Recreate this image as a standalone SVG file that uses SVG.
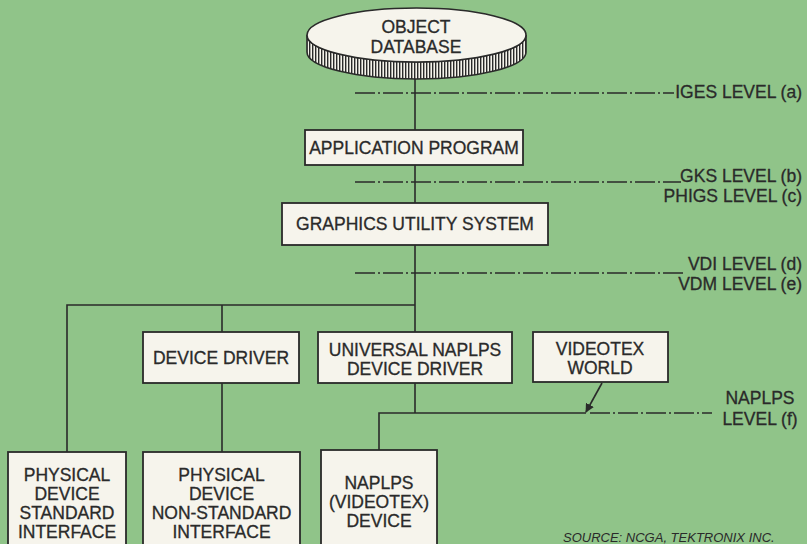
<svg xmlns="http://www.w3.org/2000/svg" width="807" height="544" viewBox="0 0 807 544">
<style>
.bg{fill:#90c489}
.box{fill:#f6f4ec;stroke:#2a2a2a;stroke-width:1.8}
.t{font-family:"Liberation Sans",Arial,sans-serif;font-size:17.5px;fill:#2a2a2a;stroke:#2a2a2a;stroke-width:0.3;text-anchor:middle}
.lbl{font-family:"Liberation Sans",Arial,sans-serif;font-size:17.5px;fill:#2a2a2a;stroke:#2a2a2a;stroke-width:0.3;text-anchor:end}
.c{fill:none;stroke:#2a2a2a;stroke-width:1.6}
.dd{fill:none;stroke:#2a2a2a;stroke-width:1.5;stroke-dasharray:20 3 2 3}
.src{font-family:"Liberation Sans",Arial,sans-serif;font-size:13px;font-style:italic;fill:#2a2a2a}
</style>
<defs>
<pattern id="ribs" patternUnits="userSpaceOnUse" width="3" height="40">
<rect width="3" height="40" fill="#f6f4ec"/>
<rect x="0" width="1.4" height="40" fill="#2a2a2a"/>
</pattern>
<marker id="arr" viewBox="0 0 10 10" refX="9" refY="5" markerWidth="9" markerHeight="9" markerUnits="userSpaceOnUse" orient="auto">
<path d="M0,0 L10,5 L0,10 Z" fill="#2a2a2a"/>
</marker>
</defs>
<rect class="bg" width="807" height="544"/>

<g id="connectors">
<line class="c" x1="415" y1="79" x2="415" y2="130"/>
<line class="c" x1="415" y1="165" x2="415" y2="203"/>
<line class="c" x1="415" y1="245" x2="415" y2="332"/>
<polyline class="c" points="67,452 67,305 415,305"/>
<line class="c" x1="222" y1="305" x2="222" y2="332"/>
<line class="c" x1="222" y1="383" x2="222" y2="452"/>
<polyline class="c" points="415,383 415,413"/>
<polyline class="c" points="379,450 379,413 586,413"/>
<line class="c" x1="602" y1="383" x2="586" y2="412" marker-end="url(#arr)"/>
<line class="dd" x1="355" y1="93" x2="674" y2="93"/>
<line class="dd" x1="355" y1="182" x2="681" y2="182"/>
<line class="dd" x1="355" y1="273" x2="684" y2="273"/>
<line class="dd" x1="590" y1="413" x2="712" y2="413"/>
</g>

<g id="object-database">
<path d="M307,35 A109.5,27 0 0 0 526,35 L526,52 A109.5,27 0 0 1 307,52 Z" fill="url(#ribs)" stroke="#2a2a2a" stroke-width="1.6"/>
<ellipse cx="416.5" cy="35" rx="109.5" ry="27" fill="#f6f4ec" stroke="#2a2a2a" stroke-width="1.6"/>
<text class="t" x="416" y="33">OBJECT</text>
<text class="t" x="416" y="53">DATABASE</text>
</g>

<g id="application-program">
<rect class="box" x="305" y="130" width="218" height="35"/>
<text class="t" x="414" y="154">APPLICATION PROGRAM</text>
</g>

<g id="graphics-utility-system">
<rect class="box" x="282" y="203" width="266" height="42"/>
<text class="t" x="415" y="230">GRAPHICS UTILITY SYSTEM</text>
</g>

<g id="device-driver">
<rect class="box" x="143" y="332" width="156" height="51"/>
<text class="t" x="221" y="364">DEVICE DRIVER</text>
</g>

<g id="universal-naplps">
<rect class="box" x="318" y="332" width="194" height="51"/>
<text class="t" x="415" y="356">UNIVERSAL NAPLPS</text>
<text class="t" x="415" y="375">DEVICE DRIVER</text>
</g>

<g id="videotex-world">
<rect class="box" x="533" y="332" width="135" height="50"/>
<text class="t" x="600" y="355">VIDEOTEX</text>
<text class="t" x="600" y="374">WORLD</text>
</g>

<g id="physical-standard">
<rect class="box" x="8" y="452" width="118" height="100"/>
<text class="t" x="67" y="481">PHYSICAL</text>
<text class="t" x="67" y="500">DEVICE</text>
<text class="t" x="67" y="519">STANDARD</text>
<text class="t" x="67" y="538">INTERFACE</text>
</g>

<g id="physical-nonstandard">
<rect class="box" x="143" y="452" width="157" height="100"/>
<text class="t" x="221.5" y="481">PHYSICAL</text>
<text class="t" x="221.5" y="500">DEVICE</text>
<text class="t" x="221.5" y="519">NON-STANDARD</text>
<text class="t" x="221.5" y="538">INTERFACE</text>
</g>

<g id="naplps-device">
<rect class="box" x="321" y="450" width="116" height="100"/>
<text class="t" x="379" y="489">NAPLPS</text>
<text class="t" x="379" y="508">(VIDEOTEX)</text>
<text class="t" x="379" y="527">DEVICE</text>
</g>

<g id="levels">
<text class="lbl" x="802" y="98">IGES LEVEL (a)</text>
<text class="lbl" x="802" y="182">GKS LEVEL (b)</text>
<text class="lbl" x="802" y="202">PHIGS LEVEL (c)</text>
<text class="lbl" x="802" y="270">VDI LEVEL (d)</text>
<text class="lbl" x="802" y="290">VDM LEVEL (e)</text>
<text class="t" x="760" y="404">NAPLPS</text>
<text class="t" x="760" y="425">LEVEL (f)</text>
</g>

<text class="src" x="563" y="542">SOURCE: NCGA, TEKTRONIX INC.</text>
</svg>
